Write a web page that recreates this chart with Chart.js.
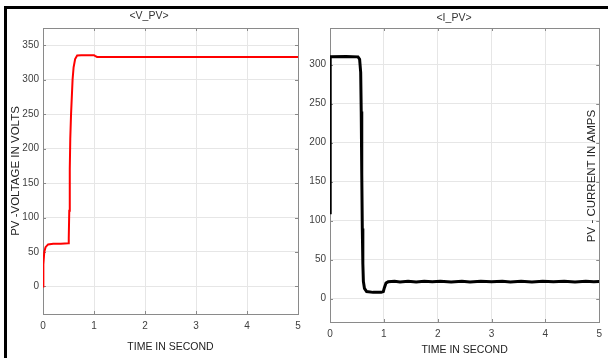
<!DOCTYPE html>
<html>
<head>
<meta charset="utf-8">
<script src="https://cdn.jsdelivr.net/npm/chart.js@4"></script>
<style>
  html, body { margin:0; padding:0; background:#fff; }
  body { width:608px; height:358px; position:relative; overflow:hidden; }
  #frame { position:absolute; left:4px; top:6px; width:620px; height:370px; border-top:3px solid #000; border-left:3px solid #000; }
  #c1 { position:absolute; left:0; top:0; }
  #c2 { position:absolute; left:305px; top:0; }
</style>
</head>
<body>
<div id="frame"></div>
<canvas id="c1" width="310" height="358"></canvas>
<canvas id="c2" width="303" height="358"></canvas>
<script>
// ---- data ----
const xTicks = [0, 1, 2, 3, 4, 5];
const vTicks = [0, 50, 100, 150, 200, 250, 300, 350];
const iTicks = [0, 50, 100, 150, 200, 250, 300];

const vTime   = [0, 0.004, 0.01, 0.025, 0.05, 0.1, 0.2, 0.35, 0.5, 0.505, 0.515, 0.525, 0.535, 0.55, 0.58, 0.6, 0.63, 0.67, 0.75, 1.0, 1.02, 1.06, 2, 3, 4, 5];
const vValues = [0, 20, 32, 50, 57, 61, 62, 62, 62.5, 70, 110, 170, 215, 250, 300, 318, 330, 335, 335.5, 335.5, 334.5, 333, 333, 333, 333, 333];

const iTime   = [0, 0.004, 0.3, 0.52, 0.55, 0.57, 0.58, 0.59, 0.6, 0.61, 0.62, 0.64, 0.68, 0.8, 0.95, 0.99, 1.01, 1.04, 1.08,
                 1.2, 1.3, 1.45, 1.6, 1.75, 1.9, 2.05, 2.25, 2.45, 2.6, 2.8, 3.0, 3.2, 3.35, 3.55, 3.75, 3.95, 4.15, 4.35, 4.55, 4.75, 4.9, 5];
const iValues = [110, 310, 310.5, 310, 307, 290, 240, 160, 90, 45, 22, 13, 9, 8, 8, 9, 14, 20, 21.5,
                 22.2, 21.4, 22.2, 21.4, 22.2, 21.5, 22.2, 21.4, 22.2, 21.4, 22.2, 21.5, 22.2, 21.4, 22.2, 21.4, 22.2, 21.5, 22.2, 21.4, 22.2, 21.5, 22];

const FONT = 'Liberation Sans, Arial, Helvetica, sans-serif';
const TICKCOL = '#404040';
const GRIDCOL = '#e6e6e6';
const BOXCOL = '#8a8a8a';

function pts(xs, ys) { return xs.map((x, k) => ({ x: x, y: ys[k] })); }

// box + inward tick marks
const boxPlugin = {
  id: 'box',
  beforeDatasetsDraw(chart) {
    const { ctx, chartArea: a, scales } = chart;
    ctx.save();
    ctx.strokeStyle = BOXCOL;
    ctx.lineWidth = 1;
    ctx.strokeRect(Math.round(a.left) + 0.5, Math.round(a.top) + 0.5, Math.round(a.right - a.left), Math.round(a.bottom - a.top));
    ctx.beginPath();
    scales.x.ticks.forEach(t => {
      const px = Math.round(scales.x.getPixelForValue(t.value)) + 0.5;
      ctx.moveTo(px, a.bottom); ctx.lineTo(px, a.bottom - 3);
      ctx.moveTo(px, a.top); ctx.lineTo(px, a.top + 3);
    });
    scales.y.ticks.forEach(t => {
      const py = Math.round(scales.y.getPixelForValue(t.value)) + 0.5;
      ctx.moveTo(a.left, py); ctx.lineTo(a.left + 3, py);
      ctx.moveTo(a.right, py); ctx.lineTo(a.right - 3, py);
    });
    ctx.stroke();
    ctx.restore();
  }
};

// right-side y label drawn inside plot area
const innerYLabel = {
  id: 'innerYLabel',
  afterDraw(chart, args, opts) {
    if (!opts.text) return;
    const { ctx, chartArea: a } = chart;
    ctx.save();
    ctx.translate(opts.x, (a.top + a.bottom) / 2 + (opts.dy || 0));
    ctx.rotate(-Math.PI / 2);
    ctx.font = opts.size + 'px ' + FONT;
    ctx.fillStyle = '#222';
    ctx.textAlign = 'center';
    ctx.textBaseline = 'middle';
    ctx.fillText(opts.text, 0, 0);
    ctx.restore();
  }
};

function makeChart(el, cfg) {
  return new Chart(el, {
    type: 'line',
    data: {
      datasets: [{
        data: pts(cfg.xs, cfg.ys),
        borderColor: cfg.color,
        borderWidth: cfg.width,
        pointRadius: 0,
        tension: 0,
        fill: false
      }]
    },
    options: {
      responsive: false,
      animation: false,
      devicePixelRatio: 1,
      layout: { padding: { left: 0, right: cfg.padRight, top: 0, bottom: 0 } },
      plugins: {
        legend: { display: false },
        tooltip: { enabled: false },
        title: {
          display: true, text: cfg.title, color: '#333',
          font: { family: FONT, size: 10.5, weight: 'normal' },
          padding: cfg.titlePad
        },
        innerYLabel: cfg.innerLabel || {}
      },
      scales: {
        x: {
          type: 'linear', min: 0, max: 5,
          afterBuildTicks: s => { s.ticks = xTicks.map(v => ({ value: v })); },
          afterFit: s => { s.height = cfg.xHeight; },
          grid: { color: GRIDCOL, drawTicks: false },
          border: { display: false },
          ticks: { padding: 6, color: TICKCOL, font: { family: FONT, size: 10 }, maxRotation: 0 },
          title: {
            display: true, text: 'TIME IN SECOND', color: '#222',
            font: { family: FONT, size: 10.5 },
            padding: { top: 0, bottom: cfg.xTitleBottom }
          }
        },
        y: {
          type: 'linear', min: cfg.ymin, max: cfg.ymax,
          afterBuildTicks: s => { s.ticks = cfg.yTicks.map(v => ({ value: v })); },
          afterFit: s => { s.width = cfg.yWidth; },
          grid: { color: GRIDCOL, drawTicks: false },
          border: { display: false },
          ticks: { padding: cfg.yTickPad, color: TICKCOL, font: { family: FONT, size: 10 } },
          title: cfg.yTitle ? {
            display: true, text: cfg.yTitle, color: '#222',
            font: { family: FONT, size: 11.5 },
            padding: { top: 9, bottom: 0 }
          } : { display: false }
        }
      }
    },
    plugins: [boxPlugin, innerYLabel]
  });
}

makeChart(document.getElementById('c1'), {
  xs: vTime, ys: vValues, color: '#ff0000', width: 2,
  title: '<V_PV>', titlePad: { top: 10, bottom: 5.4 },
  padRight: 12, xHeight: 44, xTitleBottom: 4.7, yWidth: 43, yTickPad: 4,
  ymin: -40, ymax: 375, yTicks: vTicks,
  yTitle: 'PV -VOLTAGE IN VOLTS'
});

makeChart(document.getElementById('c2'), {
  xs: iTime, ys: iValues, color: '#000000', width: 3,
  title: '<I_PV>', titlePad: { top: 12, bottom: 3.4 },
  padRight: 5, xHeight: 36, xTitleBottom: 1.7, yWidth: 25, yTickPad: 4,
  ymin: -30, ymax: 347, yTicks: iTicks,
  yTitle: null,
  innerLabel: { text: 'PV - CURRENT IN AMPS', x: 286.5, size: 11.5, dy: 1 }
});
</script>
</body>
</html>
